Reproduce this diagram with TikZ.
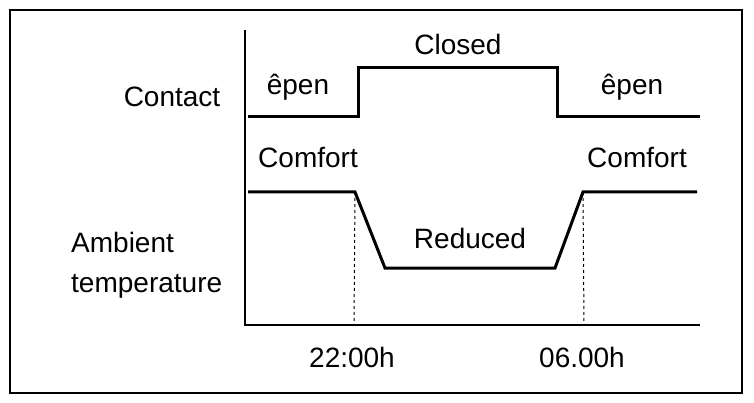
\documentclass[tikz,border=0pt]{standalone}
\usepackage{fontspec}
\setmainfont{Liberation Sans}
\usetikzlibrary{positioning}
\tikzset{
sig/.style={
    line width=3pt,
    line join=miter
},
axis/.style={
    line width=1.5pt
},
guide/.style={
    dashed,
    line width=1pt
},
lbl/.style={
    font=\fontsize{28}{40}\selectfont,
    inner sep=0pt
}}

\begin{document}
\begin{tikzpicture}[x=1pt,y=-1pt]
\useasboundingbox (0,0) rectangle (754,403);
\draw[line width=2pt] (10,10) rectangle (742,393);

% axes
\coordinate (top)    at (245,30);
\coordinate (origin) at (245,325);
\coordinate (right)  at (700,325);
\draw[axis] (top) -- (origin) -- (right);

% contact signal
\coordinate (c0) at (248,117);
\coordinate (c1) at (358,117);
\coordinate (c2) at (358,68);
\coordinate (c3) at (557,68);
\coordinate (c4) at (557,117);
\coordinate (c5) at (700,117);
\draw[sig] (c0) -- (c1) -- (c2) -- (c3) -- (c4) -- (c5);

% temperature signal
\coordinate (t0) at (248,192);
\coordinate (t1) at (355,192);
\coordinate (t2) at (385,268);
\coordinate (t3) at (555,268);
\coordinate (t4) at (583,192);
\coordinate (t5) at (697,192);
\draw[sig] (t0) -- (t1) -- (t2) -- (t3) -- (t4) -- (t5);

% time marks
\coordinate (m1) at (354,325);
\coordinate (m2) at (584,325);
\draw[guide] (t1) -- (m1);
\draw[guide] (t4) -- (m2);

\node[lbl] (contact) at (172,97)  {Contact};
\node[lbl] (open1)   at (298,87)  {êpen};
\node[lbl] (closed)  at (458,44)  {Closed};
\node[lbl] (open2)   at (632,87)  {êpen};
\node[lbl] (comf1)   at (308,158) {Comfort};
\node[lbl] (comf2)   at (637,158) {Comfort};
\node[lbl] (reduced) at (470,238) {Reduced};
\node[lbl,align=left,anchor=west] (ambient) at (71,265) {Ambient\\temperature};
\node[lbl] (time1)   at (352,357) {22:00h};
\node[lbl] (time2)   at (582,357) {06.00h};
\end{tikzpicture}
\end{document}
